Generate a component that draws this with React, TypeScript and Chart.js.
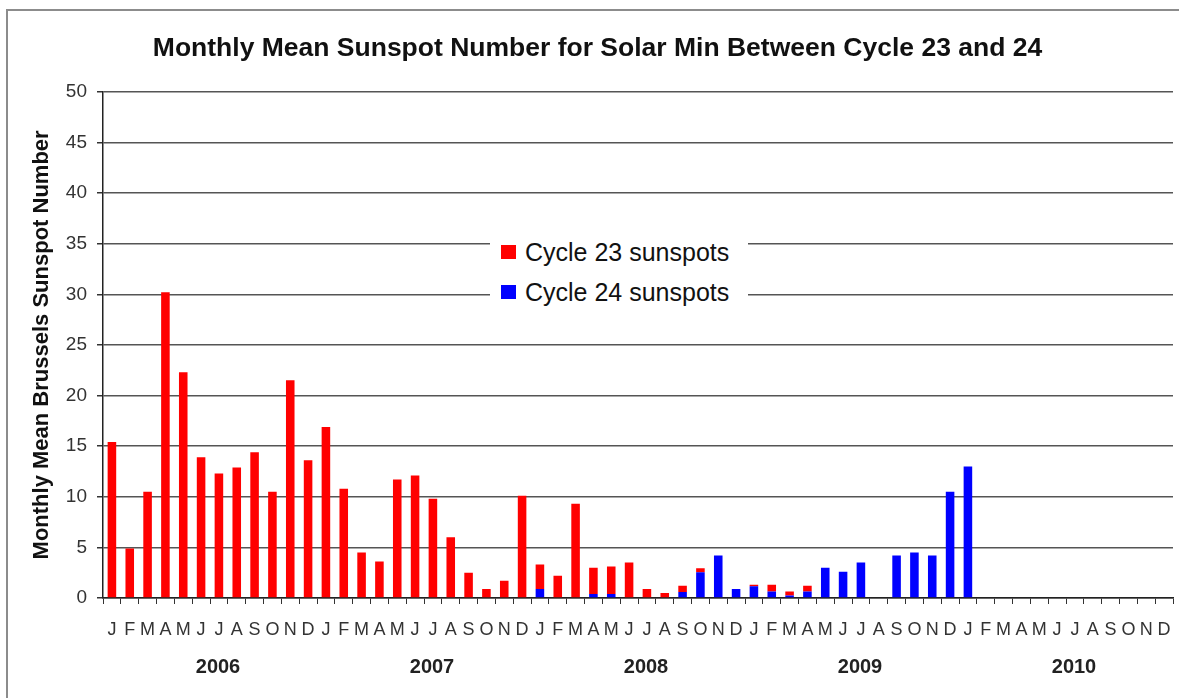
import React, { useEffect, useRef } from "react";
import { Chart, registerables } from "chart.js";

Chart.register(...registerables);

const years = ["2006", "2007", "2008", "2009", "2010"];
const monthLetters = ["J", "F", "M", "A", "M", "J", "J", "A", "S", "O", "N", "D"];
const categories = years.flatMap(() => monthLetters);

// Cycle 23 sunspots (red), Jan 2006 .. Dec 2010
const cycle23: (number | null)[] = [
  15.4, 4.9, 10.5, 30.2, 22.3, 13.9, 12.3, 12.9, 14.4, 10.5, 21.5, 13.6,
  16.9, 10.8, 4.5, 3.6, 11.7, 12.1, 9.8, 6.0, 2.5, 0.9, 1.7, 10.1,
  2.4, 2.2, 9.3, 2.6, 2.7, 3.5, 0.9, 0.5, 0.6, 0.4, 0, 0,
  0.15, 0.65, 0.4, 0.55, 0, 0, 0, 0, 0, 0, 0, 0,
  0, null, null, null, null, null, null, null, null, null, null, null,
];

// Cycle 24 sunspots (blue)
const cycle24: (number | null)[] = [
  0, 0, 0, 0, 0, 0, 0, 0, 0, 0, 0, 0,
  0, 0, 0, 0, 0, 0, 0, 0, 0, 0, 0, 0,
  0.9, 0, 0, 0.4, 0.4, 0, 0, 0, 0.6, 2.55, 4.2, 0.9,
  1.15, 0.65, 0.25, 0.65, 3.0, 2.6, 3.5, 0, 4.2, 4.5, 4.2, 10.5,
  13.0, null, null, null, null, null, null, null, null, null, null, null,
];

const titleText = "Monthly Mean Sunspot Number for Solar Min Between Cycle 23 and 24";
const yTitle = "Monthly Mean Brussels Sunspot Number";
const legendItems = [
  { label: "Cycle 23 sunspots", color: "#ff0000" },
  { label: "Cycle 24 sunspots", color: "#0000ff" },
];

const FONT = "'Liberation Sans', Arial, Helvetica, sans-serif";

const framePlugin = {
  id: "frame",
  beforeDraw(chart: any) {
    const ctx = chart.ctx;
    ctx.save();
    ctx.fillStyle = "#ffffff";
    ctx.fillRect(0, 0, chart.width, chart.height);
    ctx.strokeStyle = "#8c8c8c";
    ctx.lineWidth = 2;
    ctx.strokeRect(7, 10, 1400, 1000);
    ctx.restore();
  },
};

export default function App() {
  const ref = useRef<HTMLCanvasElement | null>(null);

  useEffect(() => {
    if (!ref.current) return;
    Chart.defaults.font.family = FONT;
    const chart = new Chart(ref.current, {
      type: "bar",
      data: {
        labels: categories,
        datasets: [
          {
            label: legendItems[1].label,
            data: cycle24,
            backgroundColor: legendItems[1].color,
            borderWidth: 0,
            barPercentage: 0.48,
            categoryPercentage: 1,
          },
          {
            label: legendItems[0].label,
            data: cycle23,
            backgroundColor: legendItems[0].color,
            borderWidth: 0,
            barPercentage: 0.48,
            categoryPercentage: 1,
          },
        ],
      },
      options: {
        responsive: false,
        animation: false,
        layout: { padding: { left: 22, right: 6, top: 0, bottom: 0 } },
        plugins: {
          legend: { display: false },
          tooltip: { enabled: false },
          title: {
            display: true,
            text: titleText,
            color: "#111111",
            font: { size: 26.5, weight: "bold", family: FONT },
            padding: { top: 33, bottom: 27 },
          },
        },
        scales: {
          x: {
            type: "category",
            stacked: true,
            offset: true,
            weight: 0,
            grid: {
              display: true,
              offset: true,
              drawOnChartArea: false,
              drawTicks: true,
              tickLength: 6,
              color: "#333333",
              lineWidth: 1,
            },
            border: { display: true, color: "#222222", width: 1.5 },
            ticks: {
              autoSkip: false,
              maxRotation: 0,
              minRotation: 0,
              color: "#333333",
              font: { size: 18, family: FONT, lineHeight: 2.9 },
              padding: 0,
            },
            afterFit: (s: any) => {
              s.height = 42;
            },
          },
          x2: {
            type: "category",
            labels: years,
            position: "bottom",
            offset: true,
            weight: 1,
            grid: { display: false },
            border: { display: false },
            ticks: {
              color: "#222222",
              font: { size: 20, weight: "bold", family: FONT },
              padding: 7,
              labelOffset: 8,
              autoSkip: false,
              maxRotation: 0,
            },
            afterFit: (s: any) => {
              s.height = 58;
            },
          },
          y: {
            stacked: true,
            min: 0,
            max: 50,
            ticks: {
              stepSize: 5,
              color: "#333333",
              font: { size: 19, family: FONT },
              padding: 10,
            },
            grid: {
              color: "#555555",
              lineWidth: 1.5,
              tickLength: 6,
              tickColor: "#333333",
            },
            border: { display: true, color: "#222222", width: 1.5 },
            title: {
              display: true,
              text: yTitle,
              color: "#111111",
              font: { size: 22, weight: "bold", family: FONT },
              padding: { top: 7, bottom: 0 },
            },
            afterFit: (s: any) => {
              s.width = 81;
            },
          },
        },
      },
      plugins: [framePlugin],
    });
    return () => chart.destroy();
  }, []);

  return (
    <div style={{ position: "absolute", left: 0, top: 0, width: 1179, height: 698, overflow: "hidden" }}>
      <canvas ref={ref} width={1179} height={698} style={{ display: "block" }} />
      <div
        style={{
          position: "absolute",
          left: 490,
          top: 232,
          width: 258,
          height: 78,
          background: "#ffffff",
          fontFamily: FONT,
          fontSize: 25,
          color: "#111111",
        }}
      >
        {legendItems.map((it, i) => (
          <div
            key={it.label}
            style={{
              position: "absolute",
              left: 11,
              top: i === 0 ? 5 : 45,
              height: 30,
              display: "flex",
              alignItems: "center",
              whiteSpace: "nowrap",
            }}
          >
            <span style={{ display: "inline-block", width: 15, height: 14, background: it.color, marginRight: 9 }} />
            <span>{it.label}</span>
          </div>
        ))}
      </div>
    </div>
  );
}
